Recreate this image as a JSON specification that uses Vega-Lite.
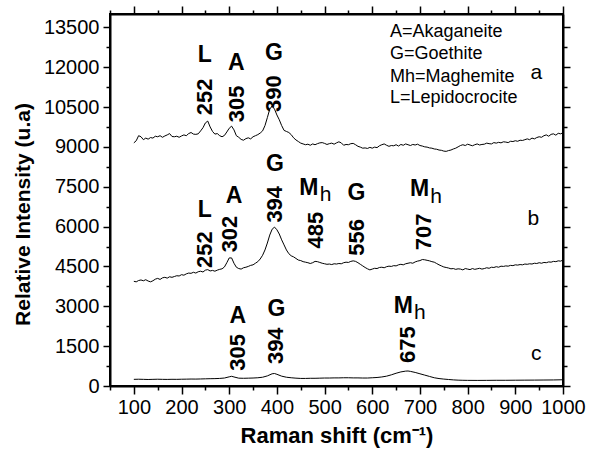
{
"$schema":"https://vega.github.io/schema/vega-lite/v6.json",
"width":453,"height":372,
"padding":{"left":12,"top":5,"right":5,"bottom":5},
"background":"white",
"config":{"view":{"stroke":"black","strokeWidth":2},"font":"Liberation Sans"},
"datasets":{
"sp":[
{"s":"a","x":100,"y":9150},{"s":"a","x":105,"y":9230},{"s":"a","x":110,"y":9420},{"s":"a","x":115,"y":9380},{"s":"a","x":120,"y":9270},{"s":"a","x":125,"y":9330},{"s":"a","x":130,"y":9290},{"s":"a","x":135,"y":9350},{"s":"a","x":140,"y":9330},{"s":"a","x":145,"y":9400},{"s":"a","x":150,"y":9380},{"s":"a","x":155,"y":9420},{"s":"a","x":160,"y":9360},{"s":"a","x":165,"y":9410},{"s":"a","x":170,"y":9450},{"s":"a","x":175,"y":9500},{"s":"a","x":180,"y":9390},{"s":"a","x":185,"y":9380},{"s":"a","x":190,"y":9400},{"s":"a","x":195,"y":9360},{"s":"a","x":200,"y":9410},{"s":"a","x":205,"y":9450},{"s":"a","x":210,"y":9420},{"s":"a","x":215,"y":9500},{"s":"a","x":220,"y":9540},{"s":"a","x":225,"y":9480},{"s":"a","x":230,"y":9470},{"s":"a","x":235,"y":9490},{"s":"a","x":240,"y":9600},{"s":"a","x":245,"y":9720},{"s":"a","x":250,"y":9900},{"s":"a","x":255,"y":9970},{"s":"a","x":260,"y":9750},{"s":"a","x":265,"y":9580},{"s":"a","x":270,"y":9480},{"s":"a","x":275,"y":9500},{"s":"a","x":280,"y":9420},{"s":"a","x":285,"y":9380},{"s":"a","x":290,"y":9430},{"s":"a","x":295,"y":9560},{"s":"a","x":300,"y":9700},{"s":"a","x":305,"y":9780},{"s":"a","x":310,"y":9640},{"s":"a","x":315,"y":9420},{"s":"a","x":320,"y":9360},{"s":"a","x":325,"y":9280},{"s":"a","x":330,"y":9250},{"s":"a","x":335,"y":9310},{"s":"a","x":340,"y":9340},{"s":"a","x":345,"y":9300},{"s":"a","x":350,"y":9380},{"s":"a","x":355,"y":9420},{"s":"a","x":360,"y":9460},{"s":"a","x":365,"y":9520},{"s":"a","x":370,"y":9600},{"s":"a","x":375,"y":9800},{"s":"a","x":380,"y":10100},{"s":"a","x":385,"y":10420},{"s":"a","x":390,"y":10540},{"s":"a","x":395,"y":10420},{"s":"a","x":400,"y":10200},{"s":"a","x":405,"y":10020},{"s":"a","x":410,"y":9800},{"s":"a","x":415,"y":9620},{"s":"a","x":420,"y":9580},{"s":"a","x":425,"y":9540},{"s":"a","x":430,"y":9460},{"s":"a","x":435,"y":9340},{"s":"a","x":440,"y":9260},{"s":"a","x":445,"y":9200},{"s":"a","x":450,"y":9140},{"s":"a","x":455,"y":9110},{"s":"a","x":460,"y":9080},{"s":"a","x":465,"y":9100},{"s":"a","x":470,"y":9060},{"s":"a","x":475,"y":9110},{"s":"a","x":480,"y":9080},{"s":"a","x":485,"y":9120},{"s":"a","x":490,"y":9150},{"s":"a","x":495,"y":9160},{"s":"a","x":500,"y":9130},{"s":"a","x":505,"y":9090},{"s":"a","x":510,"y":9120},{"s":"a","x":515,"y":9140},{"s":"a","x":520,"y":9100},{"s":"a","x":525,"y":9150},{"s":"a","x":530,"y":9190},{"s":"a","x":535,"y":9150},{"s":"a","x":540,"y":9060},{"s":"a","x":545,"y":9090},{"s":"a","x":550,"y":9080},{"s":"a","x":555,"y":9120},{"s":"a","x":560,"y":9130},{"s":"a","x":565,"y":9080},{"s":"a","x":570,"y":9020},{"s":"a","x":575,"y":8990},{"s":"a","x":580,"y":8950},{"s":"a","x":585,"y":8960},{"s":"a","x":590,"y":8940},{"s":"a","x":595,"y":8980},{"s":"a","x":600,"y":8950},{"s":"a","x":605,"y":8990},{"s":"a","x":610,"y":8970},{"s":"a","x":615,"y":9040},{"s":"a","x":620,"y":9080},{"s":"a","x":625,"y":9110},{"s":"a","x":630,"y":9060},{"s":"a","x":635,"y":9020},{"s":"a","x":640,"y":9050},{"s":"a","x":645,"y":9040},{"s":"a","x":650,"y":9080},{"s":"a","x":655,"y":9030},{"s":"a","x":660,"y":9090},{"s":"a","x":665,"y":9060},{"s":"a","x":670,"y":9110},{"s":"a","x":675,"y":9080},{"s":"a","x":680,"y":9050},{"s":"a","x":685,"y":9090},{"s":"a","x":690,"y":9070},{"s":"a","x":695,"y":9100},{"s":"a","x":700,"y":9050},{"s":"a","x":705,"y":9030},{"s":"a","x":710,"y":9000},{"s":"a","x":715,"y":8990},{"s":"a","x":720,"y":8960},{"s":"a","x":725,"y":8950},{"s":"a","x":730,"y":8920},{"s":"a","x":735,"y":8910},{"s":"a","x":740,"y":8880},{"s":"a","x":745,"y":8870},{"s":"a","x":750,"y":8840},{"s":"a","x":755,"y":8830},{"s":"a","x":760,"y":8860},{"s":"a","x":765,"y":8880},{"s":"a","x":770,"y":8920},{"s":"a","x":775,"y":8950},{"s":"a","x":780,"y":9000},{"s":"a","x":785,"y":9050},{"s":"a","x":790,"y":9080},{"s":"a","x":795,"y":9050},{"s":"a","x":800,"y":9100},{"s":"a","x":805,"y":9070},{"s":"a","x":810,"y":9040},{"s":"a","x":815,"y":9080},{"s":"a","x":820,"y":9110},{"s":"a","x":825,"y":9070},{"s":"a","x":830,"y":9090},{"s":"a","x":835,"y":9100},{"s":"a","x":840,"y":9140},{"s":"a","x":845,"y":9120},{"s":"a","x":850,"y":9110},{"s":"a","x":855,"y":9160},{"s":"a","x":860,"y":9140},{"s":"a","x":865,"y":9170},{"s":"a","x":870,"y":9150},{"s":"a","x":875,"y":9190},{"s":"a","x":880,"y":9180},{"s":"a","x":885,"y":9160},{"s":"a","x":890,"y":9210},{"s":"a","x":895,"y":9200},{"s":"a","x":900,"y":9230},{"s":"a","x":905,"y":9210},{"s":"a","x":910,"y":9250},{"s":"a","x":915,"y":9240},{"s":"a","x":920,"y":9270},{"s":"a","x":925,"y":9300},{"s":"a","x":930,"y":9270},{"s":"a","x":935,"y":9330},{"s":"a","x":940,"y":9300},{"s":"a","x":945,"y":9350},{"s":"a","x":950,"y":9380},{"s":"a","x":955,"y":9360},{"s":"a","x":960,"y":9420},{"s":"a","x":965,"y":9450},{"s":"a","x":970,"y":9400},{"s":"a","x":975,"y":9470},{"s":"a","x":980,"y":9490},{"s":"a","x":985,"y":9440},{"s":"a","x":990,"y":9510},{"s":"a","x":995,"y":9490},{"s":"a","x":1000,"y":9530},
{"s":"b","x":100,"y":3940},{"s":"b","x":105,"y":3920},{"s":"b","x":110,"y":3970},{"s":"b","x":115,"y":3990},{"s":"b","x":120,"y":3960},{"s":"b","x":125,"y":4000},{"s":"b","x":130,"y":3950},{"s":"b","x":135,"y":3920},{"s":"b","x":140,"y":3960},{"s":"b","x":145,"y":4020},{"s":"b","x":150,"y":4050},{"s":"b","x":155,"y":4010},{"s":"b","x":160,"y":4070},{"s":"b","x":165,"y":4090},{"s":"b","x":170,"y":4060},{"s":"b","x":175,"y":4110},{"s":"b","x":180,"y":4090},{"s":"b","x":185,"y":4120},{"s":"b","x":190,"y":4150},{"s":"b","x":195,"y":4140},{"s":"b","x":200,"y":4190},{"s":"b","x":205,"y":4170},{"s":"b","x":210,"y":4220},{"s":"b","x":215,"y":4250},{"s":"b","x":220,"y":4240},{"s":"b","x":225,"y":4280},{"s":"b","x":230,"y":4250},{"s":"b","x":235,"y":4300},{"s":"b","x":240,"y":4320},{"s":"b","x":245,"y":4290},{"s":"b","x":250,"y":4360},{"s":"b","x":255,"y":4380},{"s":"b","x":260,"y":4330},{"s":"b","x":265,"y":4350},{"s":"b","x":270,"y":4320},{"s":"b","x":275,"y":4360},{"s":"b","x":280,"y":4390},{"s":"b","x":285,"y":4410},{"s":"b","x":290,"y":4480},{"s":"b","x":295,"y":4640},{"s":"b","x":300,"y":4820},{"s":"b","x":305,"y":4820},{"s":"b","x":310,"y":4620},{"s":"b","x":315,"y":4470},{"s":"b","x":320,"y":4420},{"s":"b","x":325,"y":4400},{"s":"b","x":330,"y":4450},{"s":"b","x":335,"y":4470},{"s":"b","x":340,"y":4500},{"s":"b","x":345,"y":4540},{"s":"b","x":350,"y":4560},{"s":"b","x":355,"y":4620},{"s":"b","x":360,"y":4680},{"s":"b","x":365,"y":4780},{"s":"b","x":370,"y":4920},{"s":"b","x":375,"y":5120},{"s":"b","x":380,"y":5380},{"s":"b","x":385,"y":5680},{"s":"b","x":390,"y":5900},{"s":"b","x":395,"y":5980},{"s":"b","x":400,"y":5880},{"s":"b","x":405,"y":5720},{"s":"b","x":410,"y":5500},{"s":"b","x":415,"y":5310},{"s":"b","x":420,"y":5120},{"s":"b","x":425,"y":4980},{"s":"b","x":430,"y":4900},{"s":"b","x":435,"y":4860},{"s":"b","x":440,"y":4800},{"s":"b","x":445,"y":4740},{"s":"b","x":450,"y":4720},{"s":"b","x":455,"y":4680},{"s":"b","x":460,"y":4660},{"s":"b","x":465,"y":4640},{"s":"b","x":470,"y":4610},{"s":"b","x":475,"y":4640},{"s":"b","x":480,"y":4690},{"s":"b","x":485,"y":4680},{"s":"b","x":490,"y":4650},{"s":"b","x":495,"y":4620},{"s":"b","x":500,"y":4600},{"s":"b","x":505,"y":4580},{"s":"b","x":510,"y":4590},{"s":"b","x":515,"y":4570},{"s":"b","x":520,"y":4600},{"s":"b","x":525,"y":4590},{"s":"b","x":530,"y":4610},{"s":"b","x":535,"y":4600},{"s":"b","x":540,"y":4640},{"s":"b","x":545,"y":4660},{"s":"b","x":550,"y":4650},{"s":"b","x":555,"y":4690},{"s":"b","x":560,"y":4710},{"s":"b","x":565,"y":4690},{"s":"b","x":570,"y":4640},{"s":"b","x":575,"y":4580},{"s":"b","x":580,"y":4520},{"s":"b","x":585,"y":4460},{"s":"b","x":590,"y":4410},{"s":"b","x":595,"y":4370},{"s":"b","x":600,"y":4400},{"s":"b","x":605,"y":4430},{"s":"b","x":610,"y":4420},{"s":"b","x":615,"y":4460},{"s":"b","x":620,"y":4470},{"s":"b","x":625,"y":4450},{"s":"b","x":630,"y":4490},{"s":"b","x":635,"y":4510},{"s":"b","x":640,"y":4500},{"s":"b","x":645,"y":4530},{"s":"b","x":650,"y":4520},{"s":"b","x":655,"y":4560},{"s":"b","x":660,"y":4580},{"s":"b","x":665,"y":4560},{"s":"b","x":670,"y":4600},{"s":"b","x":675,"y":4620},{"s":"b","x":680,"y":4640},{"s":"b","x":685,"y":4620},{"s":"b","x":690,"y":4670},{"s":"b","x":695,"y":4700},{"s":"b","x":700,"y":4720},{"s":"b","x":705,"y":4760},{"s":"b","x":710,"y":4750},{"s":"b","x":715,"y":4730},{"s":"b","x":720,"y":4710},{"s":"b","x":725,"y":4680},{"s":"b","x":730,"y":4660},{"s":"b","x":735,"y":4610},{"s":"b","x":740,"y":4560},{"s":"b","x":745,"y":4520},{"s":"b","x":750,"y":4480},{"s":"b","x":755,"y":4460},{"s":"b","x":760,"y":4440},{"s":"b","x":765,"y":4410},{"s":"b","x":770,"y":4420},{"s":"b","x":775,"y":4390},{"s":"b","x":780,"y":4410},{"s":"b","x":785,"y":4400},{"s":"b","x":790,"y":4370},{"s":"b","x":795,"y":4420},{"s":"b","x":800,"y":4400},{"s":"b","x":805,"y":4380},{"s":"b","x":810,"y":4420},{"s":"b","x":815,"y":4390},{"s":"b","x":820,"y":4410},{"s":"b","x":825,"y":4430},{"s":"b","x":830,"y":4400},{"s":"b","x":835,"y":4420},{"s":"b","x":840,"y":4450},{"s":"b","x":845,"y":4430},{"s":"b","x":850,"y":4470},{"s":"b","x":855,"y":4460},{"s":"b","x":860,"y":4490},{"s":"b","x":865,"y":4470},{"s":"b","x":870,"y":4510},{"s":"b","x":875,"y":4500},{"s":"b","x":880,"y":4520},{"s":"b","x":885,"y":4510},{"s":"b","x":890,"y":4540},{"s":"b","x":895,"y":4530},{"s":"b","x":900,"y":4560},{"s":"b","x":905,"y":4550},{"s":"b","x":910,"y":4570},{"s":"b","x":915,"y":4560},{"s":"b","x":920,"y":4590},{"s":"b","x":925,"y":4580},{"s":"b","x":930,"y":4600},{"s":"b","x":935,"y":4590},{"s":"b","x":940,"y":4620},{"s":"b","x":945,"y":4610},{"s":"b","x":950,"y":4640},{"s":"b","x":955,"y":4620},{"s":"b","x":960,"y":4650},{"s":"b","x":965,"y":4640},{"s":"b","x":970,"y":4670},{"s":"b","x":975,"y":4660},{"s":"b","x":980,"y":4690},{"s":"b","x":985,"y":4680},{"s":"b","x":990,"y":4710},{"s":"b","x":995,"y":4700},{"s":"b","x":1000,"y":4740},
{"s":"c","x":100,"y":250},{"s":"c","x":110,"y":255},{"s":"c","x":120,"y":250},{"s":"c","x":130,"y":245},{"s":"c","x":140,"y":250},{"s":"c","x":150,"y":255},{"s":"c","x":160,"y":250},{"s":"c","x":170,"y":248},{"s":"c","x":180,"y":252},{"s":"c","x":190,"y":250},{"s":"c","x":200,"y":255},{"s":"c","x":210,"y":258},{"s":"c","x":220,"y":262},{"s":"c","x":230,"y":260},{"s":"c","x":240,"y":265},{"s":"c","x":250,"y":270},{"s":"c","x":260,"y":275},{"s":"c","x":270,"y":278},{"s":"c","x":280,"y":285},{"s":"c","x":290,"y":300},{"s":"c","x":300,"y":345},{"s":"c","x":305,"y":365},{"s":"c","x":310,"y":340},{"s":"c","x":320,"y":295},{"s":"c","x":330,"y":290},{"s":"c","x":340,"y":295},{"s":"c","x":350,"y":300},{"s":"c","x":360,"y":310},{"s":"c","x":370,"y":330},{"s":"c","x":380,"y":380},{"s":"c","x":390,"y":460},{"s":"c","x":395,"y":470},{"s":"c","x":400,"y":440},{"s":"c","x":410,"y":370},{"s":"c","x":420,"y":330},{"s":"c","x":430,"y":310},{"s":"c","x":440,"y":295},{"s":"c","x":450,"y":285},{"s":"c","x":460,"y":285},{"s":"c","x":470,"y":290},{"s":"c","x":480,"y":290},{"s":"c","x":490,"y":295},{"s":"c","x":500,"y":300},{"s":"c","x":510,"y":300},{"s":"c","x":520,"y":305},{"s":"c","x":530,"y":305},{"s":"c","x":540,"y":310},{"s":"c","x":550,"y":310},{"s":"c","x":560,"y":305},{"s":"c","x":570,"y":305},{"s":"c","x":580,"y":300},{"s":"c","x":590,"y":300},{"s":"c","x":600,"y":310},{"s":"c","x":610,"y":320},{"s":"c","x":620,"y":340},{"s":"c","x":630,"y":370},{"s":"c","x":640,"y":420},{"s":"c","x":650,"y":480},{"s":"c","x":660,"y":530},{"s":"c","x":670,"y":560},{"s":"c","x":675,"y":565},{"s":"c","x":680,"y":550},{"s":"c","x":690,"y":510},{"s":"c","x":700,"y":460},{"s":"c","x":710,"y":410},{"s":"c","x":720,"y":360},{"s":"c","x":730,"y":310},{"s":"c","x":740,"y":280},{"s":"c","x":750,"y":260},{"s":"c","x":760,"y":245},{"s":"c","x":770,"y":230},{"s":"c","x":780,"y":220},{"s":"c","x":790,"y":215},{"s":"c","x":800,"y":212},{"s":"c","x":820,"y":210},{"s":"c","x":840,"y":212},{"s":"c","x":860,"y":215},{"s":"c","x":880,"y":215},{"s":"c","x":900,"y":218},{"s":"c","x":920,"y":220},{"s":"c","x":940,"y":222},{"s":"c","x":960,"y":225},{"s":"c","x":980,"y":228},{"s":"c","x":1000,"y":235}
],
"ann":[
{"k":"L","x":249,"y":12470,"t":"L"},{"k":"L","x":315,"y":12150,"t":"A"},{"k":"L","x":394,"y":12520,"t":"G"},
{"k":"L","x":249,"y":6630,"t":"L"},{"k":"L","x":310,"y":7150,"t":"A"},{"k":"L","x":396,"y":8340,"t":"G"},{"k":"L","x":467,"y":7440,"t":"M"},{"k":"L","x":567,"y":7250,"t":"G"},{"k":"L","x":699,"y":7430,"t":"M"},
{"k":"L","x":318,"y":2650,"t":"A"},{"k":"L","x":399,"y":2900,"t":"G"},{"k":"L","x":665,"y":3020,"t":"M"},
{"k":"H","x":502,"y":7190,"t":"h"},{"k":"H","x":734,"y":7120,"t":"h"},{"k":"H","x":700,"y":2750,"t":"h"},
{"k":"N","x":249,"y":10880,"t":"252"},{"k":"N","x":316,"y":10620,"t":"305"},{"k":"N","x":393,"y":11000,"t":"390"},
{"k":"N","x":250,"y":5130,"t":"252"},{"k":"N","x":302,"y":5720,"t":"302"},{"k":"N","x":396,"y":6840,"t":"394"},{"k":"N","x":481,"y":5870,"t":"485"},{"k":"N","x":567,"y":5590,"t":"556"},{"k":"N","x":709,"y":5800,"t":"707"},
{"k":"N","x":318,"y":1265,"t":"305"},{"k":"N","x":399,"y":1515,"t":"394"},{"k":"N","x":675,"y":1555,"t":"675"},
{"k":"G","x":637,"y":13330,"t":"A=Akaganeite"},{"k":"G","x":637,"y":12480,"t":"G=Goethite"},{"k":"G","x":637,"y":11630,"t":"Mh=Maghemite"},{"k":"G","x":637,"y":10830,"t":"L=Lepidocrocite"},
{"k":"S","x":944,"y":11790,"t":"a"},{"k":"S","x":938,"y":6300,"t":"b"},{"k":"S","x":944,"y":1217,"t":"c"}
]
},
"resolve":{"axis":{"x":"independent","y":"independent"}},
"layer":[
{"data":{"name":"sp"},"mark":{"type":"line","color":"black","strokeWidth":1},
 "encoding":{
  "x":{"field":"x","type":"quantitative","scale":{"domain":[50,1000],"nice":false,"zero":false},
   "axis":{"orient":"bottom","values":[50,100,150,200,250,300,350,400,450,500,550,600,650,700,750,800,850,900,950,1000],"format":"d","labelExpr":"datum.value % 100 === 0 ? datum.label : ''","labelOverlap":false,"labelFlush":false,"labelFontSize":20,"labelFont":"Liberation Sans","labelColor":"black","labelPadding":3,"tickColor":"black","tickWidth":1.5,"tickSize":{"condition":{"test":"datum.value % 100 === 0","value":8},"value":4},"domainColor":"black","domainWidth":2,"grid":false,"title":"Raman shift (cm⁻¹)","titleFont":"Liberation Sans","titleFontSize":22,"titleFontWeight":"bold","titleColor":"black","titlePadding":8}},
  "y":{"field":"y","type":"quantitative","scale":{"domain":[0,14000],"nice":false,"zero":false},
   "axis":{"orient":"left","values":[0,750,1500,2250,3000,3750,4500,5250,6000,6750,7500,8250,9000,9750,10500,11250,12000,12750,13500],"format":"d","labelExpr":"datum.value % 1500 === 0 ? datum.label : ''","labelOverlap":false,"labelFlush":false,"labelFontSize":20,"labelFont":"Liberation Sans","labelColor":"black","labelPadding":4,"tickColor":"black","tickWidth":1.5,"tickSize":{"condition":{"test":"datum.value % 1500 === 0","value":7},"value":4},"domainColor":"black","domainWidth":2,"grid":false,"title":"Relative Intensity  (u.a)","titleFont":"Liberation Sans","titleFontSize":21,"titleFontWeight":"bold","titleColor":"black","titlePadding":10,"titleY":200}},
  "detail":{"field":"s","type":"nominal"}}},
{"data":{"name":"ann"},"transform":[{"filter":"datum.k === 'L'"}],
 "mark":{"type":"text","fontSize":23,"fontWeight":"bold","font":"Liberation Sans","color":"black","align":"center","baseline":"middle"},
 "encoding":{"x":{"field":"x","type":"quantitative",
   "axis":{"orient":"top","values":[50,100,150,200,250,300,350,400,450,500,550,600,650,700,750,800,850,900,950,1000],"labels":false,"title":null,"tickColor":"black","tickWidth":1.5,"tickSize":{"condition":{"test":"datum.value % 100 === 0","value":8},"value":4},"domainColor":"black","domainWidth":2,"grid":false}},
  "y":{"field":"y","type":"quantitative",
   "axis":{"orient":"right","values":[0,750,1500,2250,3000,3750,4500,5250,6000,6750,7500,8250,9000,9750,10500,11250,12000,12750,13500],"labels":false,"title":null,"tickColor":"black","tickWidth":1.5,"tickSize":{"condition":{"test":"datum.value % 1500 === 0","value":7},"value":4},"domainColor":"black","domainWidth":2,"grid":false}},
  "text":{"field":"t"}}},
{"data":{"name":"ann"},"transform":[{"filter":"datum.k === 'H'"}],
 "mark":{"type":"text","fontSize":21,"font":"Liberation Sans","color":"black","align":"center","baseline":"middle"},
 "encoding":{"x":{"field":"x","type":"quantitative","axis":null},"y":{"field":"y","type":"quantitative","axis":null},"text":{"field":"t"}}},
{"data":{"name":"ann"},"transform":[{"filter":"datum.k === 'N'"}],
 "mark":{"type":"text","fontSize":22,"fontWeight":"bold","font":"Liberation Sans","color":"black","align":"center","baseline":"middle","angle":270},
 "encoding":{"x":{"field":"x","type":"quantitative","axis":null},"y":{"field":"y","type":"quantitative","axis":null},"text":{"field":"t"}}},
{"data":{"name":"ann"},"transform":[{"filter":"datum.k === 'G'"}],
 "mark":{"type":"text","fontSize":18,"font":"Liberation Sans","color":"black","align":"left","baseline":"middle"},
 "encoding":{"x":{"field":"x","type":"quantitative","axis":null},"y":{"field":"y","type":"quantitative","axis":null},"text":{"field":"t"}}},
{"data":{"name":"ann"},"transform":[{"filter":"datum.k === 'S'"}],
 "mark":{"type":"text","fontSize":21,"font":"Liberation Sans","color":"black","align":"center","baseline":"middle"},
 "encoding":{"x":{"field":"x","type":"quantitative","axis":null},"y":{"field":"y","type":"quantitative","axis":null},"text":{"field":"t"}}}
]
}
